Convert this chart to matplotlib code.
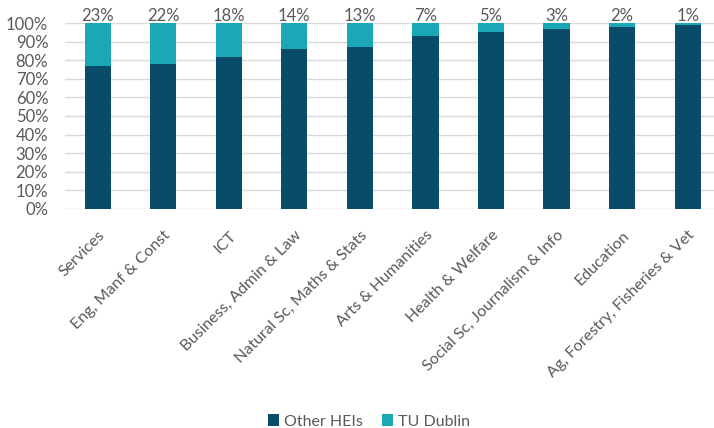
import matplotlib
matplotlib.use("Agg")
import matplotlib.pyplot as plt
import numpy as np

categories = ["Services", "Eng, Manf & Const", "ICT", "Business, Admin & Law",
              "Natural Sc, Maths & Stats", "Arts & Humanities", "Health & Welfare",
              "Social Sc, Journalism & Info", "Education", "Ag, Forestry, Fisheries & Vet"]
tu_dublin = [23, 22, 18, 14, 13, 7, 5, 3, 2, 1]
other_heis = [100 - v for v in tu_dublin]

DARK = "#084c69"
LIGHT = "#1aa8b6"
TEXT = "#595959"


def main() -> None:
    plt.rcParams["font.family"] = ["Lato", "DejaVu Sans"]
    fig = plt.figure(figsize=(7.14, 4.28), dpi=100)
    ax = fig.add_axes([0.091, 0.512, 0.918, 0.434])
    x = np.arange(len(categories))
    ax.bar(x, other_heis, width=0.4, color=DARK, label="Other HEIs", zorder=3)
    ax.bar(x, tu_dublin, width=0.4, bottom=other_heis, color=LIGHT, label="TU Dublin", zorder=3)
    for i, v in enumerate(tu_dublin):
        ax.text(x[i], 99.5, f"{v}%", ha="center", va="bottom", fontsize=12, color=TEXT)

    ax.set_xlim(-0.5, len(categories) - 0.5)
    ax.set_ylim(0, 100)
    ax.set_yticks(range(0, 101, 10))
    ax.set_yticklabels([f"{t}%" for t in range(0, 101, 10)], fontsize=12, color=TEXT)
    ax.set_xticks(x)
    ax.set_xticklabels(categories, rotation=45, ha="right", rotation_mode="anchor",
                       fontsize=11.5, color=TEXT)
    ax.tick_params(axis="y", length=0, pad=12)
    ax.tick_params(axis="x", length=0, pad=14)
    ax.grid(axis="y", color="#d9d9d9", linewidth=1, zorder=0)
    for s in ax.spines.values():
        s.set_visible(False)

    fig.legend(loc="lower center", bbox_to_anchor=(0.517, -0.035), ncol=2, frameon=False,
               fontsize=11.5, labelcolor=TEXT, handlelength=0.7, handleheight=0.7,
               handletextpad=0.3, columnspacing=1.2)
    fig.savefig("out.png", dpi=100)
    plt.close(fig)


if __name__ == "__main__":
    main()
